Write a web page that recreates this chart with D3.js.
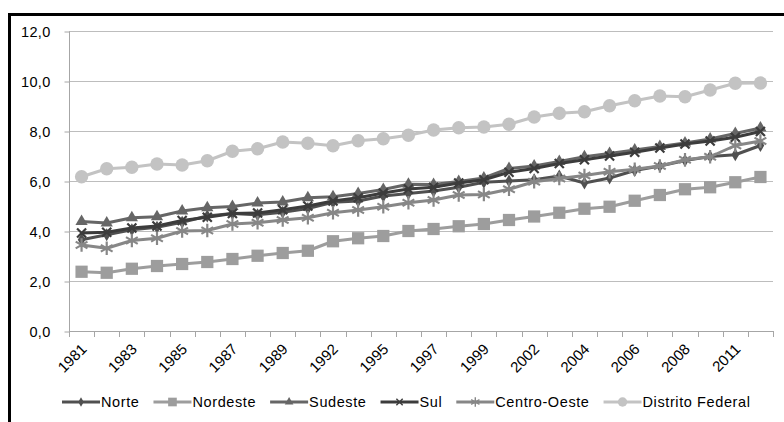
<!DOCTYPE html>
<html>
<head>
<meta charset="utf-8">
<script src="https://cdn.jsdelivr.net/npm/d3@7"></script>
<style>
  body { margin: 0; background: #fff; }
  svg { display: block; font-family: "Liberation Sans", Arial, sans-serif; }
</style>
</head>
<body>
<svg id="chart" width="784" height="422"></svg>
<script>
// Data
const years = [1981, 1982, 1983, 1984, 1985, 1986, 1987, 1988, 1989, 1990,
  1992, 1993, 1995, 1996, 1997, 1998, 1999, 2001, 2002, 2003, 2004, 2005,
  2006, 2007, 2008, 2009, 2011, 2012];
const tickYears = [1981, 1983, 1985, 1987, 1989, 1992, 1995, 1997, 1999,
  2002, 2004, 2006, 2008, 2011];
const yTicks = [0, 2, 4, 6, 8, 10, 12];

const norte = [3.65, 3.85, 4.05, 4.15, 4.35, 4.6, 4.7, 4.65, 4.75, 4.9, 5.15, 5.2,
  5.4, 5.5, 5.6, 5.75, 5.95, 6.0, 6.05, 6.2, 5.92, 6.12, 6.42, 6.6, 6.82, 6.98, 7.05, 7.42];
const nordeste = [2.37, 2.33, 2.49, 2.6, 2.68, 2.76, 2.88, 3.01, 3.12, 3.21, 3.59, 3.71,
  3.8, 4.0, 4.08, 4.19, 4.28, 4.44, 4.58, 4.73, 4.89, 4.97, 5.21, 5.44, 5.67, 5.75, 5.95, 6.16];
const sudeste = [4.38, 4.32, 4.53, 4.57, 4.8, 4.93, 4.98, 5.12, 5.16, 5.33, 5.37, 5.5,
  5.66, 5.87, 5.86, 5.98, 6.12, 6.5, 6.6, 6.78, 6.97, 7.1, 7.24, 7.38, 7.52, 7.68, 7.9, 8.12];
const sul = [3.92, 3.95, 4.12, 4.2, 4.42, 4.55, 4.7, 4.72, 4.85, 5.0, 5.2, 5.33,
  5.52, 5.68, 5.75, 5.92, 6.05, 6.35, 6.5, 6.7, 6.85, 7.0, 7.15, 7.32, 7.48, 7.6, 7.75, 7.98];
const centroOeste = [3.44, 3.31, 3.62, 3.71, 4.0, 4.02, 4.28, 4.33, 4.44, 4.53, 4.73, 4.84,
  4.97, 5.13, 5.24, 5.44, 5.46, 5.67, 5.97, 6.1, 6.22, 6.37, 6.47, 6.6, 6.85, 6.97, 7.42, 7.6];
const distritoFederal = [6.17, 6.49, 6.55, 6.68, 6.64, 6.81, 7.19, 7.29, 7.56, 7.51, 7.41, 7.61,
  7.69, 7.83, 8.04, 8.13, 8.16, 8.27, 8.56, 8.71, 8.77, 9.01, 9.21, 9.4, 9.37, 9.64, 9.91, 9.92];

const series = [
  { name: "Norte", values: norte, color: "#505050", symbol: d3.symbolDiamond, size: 50, stroke: false },
  { name: "Nordeste", values: nordeste, color: "#9d9d9d", symbol: d3.symbolSquare, size: 150, stroke: false },
  { name: "Sudeste", values: sudeste, color: "#666666", symbol: d3.symbolTriangle, size: 65, stroke: false },
  { name: "Sul", values: sul, color: "#3c3c3c", symbol: d3.symbolX, size: 55, stroke: true },
  { name: "Centro-Oeste", values: centroOeste, color: "#878787", symbol: d3.symbolAsterisk, size: 130, stroke: true },
  { name: "Distrito Federal", values: distritoFederal, color: "#c3c3c3", symbol: d3.symbolCircle, size: 140, stroke: false },
];

const svg = d3.select("#chart");

// frame
svg.append("rect")
  .attr("x", 9.5).attr("y", 14.5)
  .attr("width", 800).attr("height", 420)
  .attr("fill", "none").attr("stroke", "#000").attr("stroke-width", 3);

const plotLeft = 69, plotRight = 773, plotTop = 31, plotBottom = 331;

const x = d3.scaleBand().domain(years).range([plotLeft, plotRight]).padding(0);
const y = d3.scaleLinear().domain([0, 12]).range([plotBottom, plotTop]);
const cx = (d) => x(d) + x.bandwidth() / 2;

// gridlines
svg.append("g")
  .selectAll("line")
  .data(yTicks.filter((d) => d > 0))
  .enter()
  .append("line")
  .attr("x1", plotLeft).attr("x2", plotRight)
  .attr("y1", (d) => Math.round(y(d)) + 0.5).attr("y2", (d) => Math.round(y(d)) + 0.5)
  .attr("stroke", "#bdbdbd").attr("stroke-width", 1);

// y axis
const yAxis = svg.append("g")
  .attr("transform", `translate(${plotLeft + 0.5}, 0.5)`)
  .call(d3.axisLeft(y).tickValues(yTicks).tickSize(5).tickPadding(14)
    .tickFormat((d) => d.toFixed(1).replace(".", ",")));
yAxis.selectAll("path, line").attr("stroke", "#a6a6a6");
yAxis.select(".domain").attr("d", `M0,${plotTop}V${plotBottom}`);
yAxis.selectAll("text").attr("font-size", 14.5).attr("fill", "#000")
  .attr("letter-spacing", 0.3)
  .attr("font-family", "Liberation Sans, Arial, sans-serif");

// x axis
const xAxis = svg.append("g");
xAxis.append("line")
  .attr("x1", plotLeft).attr("x2", plotRight)
  .attr("y1", plotBottom + 0.5).attr("y2", plotBottom + 0.5)
  .attr("stroke", "#a6a6a6");
xAxis.selectAll(".tick")
  .data(years.map((d) => x(d)).concat([plotRight]))
  .enter()
  .append("line")
  .attr("class", "tick")
  .attr("x1", (d) => Math.round(d) + 0.5).attr("x2", (d) => Math.round(d) + 0.5)
  .attr("y1", plotBottom).attr("y2", plotBottom + 6)
  .attr("stroke", "#a6a6a6");
xAxis.selectAll("text")
  .data(tickYears)
  .enter()
  .append("text")
  .attr("transform", (d) => `translate(${cx(d) + 6}, ${plotBottom + 19}) rotate(-45)`)
  .attr("text-anchor", "end")
  .attr("font-size", 15)
  .attr("fill", "#000")
  .text((d) => d);

// lines and markers
const line = d3.line().x((d, i) => cx(years[i])).y((d) => y(d));

series.forEach((s) => {
  const g = svg.append("g");
  g.append("path")
    .datum(s.values)
    .attr("d", line)
    .attr("fill", "none")
    .attr("stroke", s.color)
    .attr("stroke-width", 3)
    .attr("stroke-linejoin", "round");
  g.selectAll("path.m")
    .data(s.values)
    .enter()
    .append("path")
    .attr("class", "m")
    .attr("transform", (d, i) => `translate(${cx(years[i])}, ${y(d)})`)
    .attr("d", d3.symbol().type(s.symbol).size(s.size))
    .attr("fill", s.stroke ? "none" : s.color)
    .attr("stroke", s.color)
    .attr("stroke-width", s.stroke ? 2.2 : 0);
});

// legend
const legend = svg.append("g").attr("transform", "translate(62, 402)");
let lx = 0;
series.forEach((s) => {
  const item = legend.append("g").attr("transform", `translate(${lx}, 0)`);
  item.append("line")
    .attr("x1", 0).attr("x2", 38).attr("y1", 0).attr("y2", 0)
    .attr("stroke", s.color).attr("stroke-width", 3);
  item.append("path")
    .attr("transform", "translate(19, 0)")
    .attr("d", d3.symbol().type(s.symbol).size(s.size * 0.5))
    .attr("fill", s.stroke ? "none" : s.color)
    .attr("stroke", s.color)
    .attr("stroke-width", s.stroke ? 1.4 : 0);
  const t = item.append("text")
    .attr("x", 39).attr("y", 5)
    .attr("font-size", 14.5)
    .attr("letter-spacing", 0.6)
    .attr("fill", "#000")
    .text(s.name);
  lx += 39 + t.node().getComputedTextLength() + 14;
});
</script>
</body>
</html>
